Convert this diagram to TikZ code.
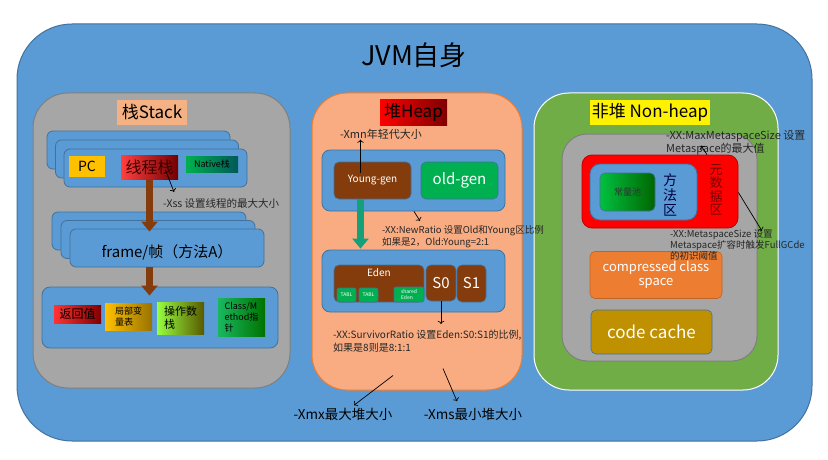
\documentclass[tikz,border=0pt]{standalone}
\usepackage{fontspec}
\setmainfont{Noto Sans CJK SC}
\usepackage{tikz}
\usetikzlibrary{positioning,arrows.meta}
\definecolor{jvmblue}{RGB}{91,155,213}
\definecolor{jvmborder}{RGB}{65,113,156}
\definecolor{stackgray}{RGB}{166,166,166}
\definecolor{stackborder}{RGB}{127,127,127}
\definecolor{stacktitle}{RGB}{244,177,131}
\definecolor{heapsalmon}{RGB}{249,172,130}
\definecolor{heapborder}{RGB}{237,125,49}
\definecolor{nonheapgreen}{RGB}{112,173,71}
\definecolor{pcyellow}{RGB}{255,192,0}
\definecolor{youngbrown}{RGB}{132,60,12}
\definecolor{oldgreen}{RGB}{0,176,80}
\definecolor{newteal}{RGB}{20,160,120}
\definecolor{metared}{RGB}{255,0,0}
\definecolor{compressed}{RGB}{237,125,49}
\definecolor{codecache}{RGB}{191,144,0}
\definecolor{notegray}{RGB}{38,38,38}
\newcommand*{\fsz}[2]{\fontsize{#1}{#2}\selectfont}
\tikzset{%
  panel/.style={draw, rounded corners=35pt, line width=1pt},% big columns
  heading/.style={rectangle, minimum height=25pt, inner sep=2pt, font=\fsz{17}{19}},% column titles
  area/.style={draw=jvmborder, fill=jvmblue, rounded corners=6pt, line width=0.8pt},% blue frames
  block/.style={rectangle, inner sep=1pt, align=center},% coloured cells
  gen/.style={block, rounded corners=5pt, draw=jvmborder, line width=0.6pt, text=white},% heap generations
  note/.style={anchor=north west, align=left, inner sep=0pt, text=notegray},% side notes
  fat/.style={line width=7pt, -{Triangle[width=16pt,length=10pt]}},% thick flow arrows
  pointer/.style={->, line width=0.7pt, black}% thin note arrows
}

\begin{document}
\begin{tikzpicture}[x=1pt, y=-1pt]
\useasboundingbox (0,0) rectangle (828,460);
\node[panel, draw=jvmborder, fill=jvmblue, rounded corners=55pt, minimum width=795pt, minimum height=417pt] (jvm) at (414.5,232.5) {};
\node[font=\fsz{27}{30}] (jvmtitle) at (414,55) {JVM自身};

% stack
\node[panel, draw=stackborder, fill=stackgray, minimum width=257pt, minimum height=295pt] (stack) at (161.5,240.5) {};
\node[heading, fill=stacktitle, minimum width=70pt] (stacktitle) at (152,112.5) {栈Stack};
\foreach \i in {2,1,0}
  \node[area, minimum width=183pt, minimum height=38pt] (thread\i) at (155.5-8.5*\i, 168-9*\i) {};
\node[block, fill=pcyellow, minimum width=36pt, minimum height=21pt, font=\fsz{14}{16}] (pc) at (87,166.5) {PC};
\node[block, left color=red!75, right color=red!45!black, minimum width=57pt, minimum height=24pt, font=\fsz{16}{18}, text=red!25!black] (xc) at (149.5,167) {线程栈};
\node[block, left color=oldgreen, right color=teal!70!black, minimum width=52pt, minimum height=16pt, font=\fsz{9}{10}] (native) at (212,164) {Native栈};

\foreach \i in {2,1,0}
  \node[area, minimum width=194pt, minimum height=38pt] (frame\i) at (167-9*\i, 248-8.5*\i) {};
\node[font=\fsz{15}{17}] (frametext) at (167,252) {frame/帧（方法A）};
\draw[fat, youngbrown] (xc.south) -- ([yshift=-3pt]xc.south |- frame0.north);

\node[area, rounded corners=8pt, minimum width=236pt, minimum height=61pt] (frameparts) at (160,317.5) {};
\draw[fat, youngbrown] (xc.south |- frame0.south) -- ([yshift=-9pt]xc.south |- frameparts.north);
\node[block, left color=red!80, right color=red!50!black, minimum width=47pt, minimum height=18pt, font=\fsz{12}{14}] (ret) at (77.5,314) {返回值};
\node[block, left color=pcyellow, right color=pcyellow!60!black, minimum width=47pt, minimum height=27pt, font=\fsz{9}{11}, align=left] (locals) at (128.5,316.5) {局部变\\量表};
\node[block, left color=green!55!yellow!75, right color=olive!70!black, minimum width=47pt, minimum height=32pt, font=\fsz{11}{13}, align=left] (operand) at (180.5,318) {操作数\\栈};
\node[block, left color=oldgreen!90, right color=green!45!black, minimum width=47pt, minimum height=38pt, font=\fsz{9}{11}, align=left] (methodref) at (241.5,317) {Class/M\\ethod指\\针};

% heap
\node[panel, draw=heapborder, fill=heapsalmon, minimum width=210pt, minimum height=297pt] (heap) at (417,241.5) {};
\node[heading, left color=red, right color=red!50!black, minimum width=67pt] (heaptitle) at (413.5,112.5) {堆Heap};
\node[area, rounded corners=8pt, minimum width=183pt, minimum height=61pt] (gens) at (413.5,180.5) {};
\node[gen, fill=youngbrown, minimum width=77pt, minimum height=37pt, font=\fsz{10}{12}] (young) at (372.5,180.5) {Young-gen};
\node[gen, fill=oldgreen, minimum width=77pt, minimum height=37pt, font=\fsz{15}{17}] (old) at (459.5,180.5) {old-gen};

\node[area, rounded corners=8pt, minimum width=183pt, minimum height=62pt] (spaces) at (413.5,281) {};
\draw[fat, newteal] ([xshift=-12pt]young.south) -- ([xshift=-12pt,yshift=1pt]young.south |- spaces.north);
\node[gen, fill=youngbrown, minimum width=90pt, minimum height=37pt] (eden) at (379,283.5) {};
\node[below=0pt of eden.north, text=white, font=\fsz{10}{12}] (edentext) {Eden};
\node[gen, fill=oldgreen, minimum width=19pt, minimum height=14pt, rounded corners=2pt, font=\fsz{5}{6}] (tabla) at (346.5,295) {TABL};
\node[gen, fill=oldgreen, minimum width=19pt, minimum height=14pt, rounded corners=2pt, font=\fsz{5}{6}] (tablb) at (368.5,295) {TABL};
\node[gen, fill=oldgreen, minimum width=30pt, minimum height=15pt, rounded corners=2pt, font=\fsz{5}{6}, align=left] (shared) at (409,294.5) {shared\\Eden};
\node[gen, fill=youngbrown, minimum width=30pt, minimum height=36pt, font=\fsz{15}{17}] (szero) at (441,283) {S0};
\node[gen, fill=youngbrown, minimum width=29pt, minimum height=37pt, font=\fsz{15}{17}] (sone) at (471.5,283.5) {S1};

\node[font=\fsz{13.5}{15}] (xmx) at (343,414) {-Xmx最大堆大小};
\node[font=\fsz{13.5}{15}] (xms) at (473,414) {-Xms最小堆大小};
\draw[pointer] ([xshift=-24pt,yshift=15pt]heap.south) -- ([xshift=11pt,yshift=-1pt]xmx.north);
\draw[pointer] ([xshift=26pt,yshift=22pt]heap.south) -- ([xshift=-16pt,yshift=3pt]xms.north);

% non-heap
\node[panel, draw=white, fill=nonheapgreen, minimum width=244pt, minimum height=297pt] (nonheap) at (656,241.5) {};
\node[heading, fill=yellow, minimum width=120pt] (nonheaptitle) at (650,112.5) {非堆 Non-heap};
\node[panel, draw=stackborder, fill=stackgray, rounded corners=25pt, minimum width=195pt, minimum height=227pt] (metaspace) at (659.5,247.5) {};
\node[area, draw=red!75!black, fill=metared, rounded corners=10pt, minimum width=156pt, minimum height=73pt] (meta) at (660,191.5) {};
\node[area, rounded corners=10pt, minimum width=107pt, minimum height=56pt] (methodarea) at (643.5,192) {};
\node[gen, left color=oldgreen!80!green, right color=green!40!black, minimum width=55pt, minimum height=38pt, text=black!80, font=\fsz{9}{11}] (pool) at (627.5,192) {常量池};
\node[font=\fsz{14}{15}, align=center, text=black!75!blue] (methodtext) at (670,195) {方\\法\\区};
\node[font=\fsz{13}{13.5}, align=center, text=red!45!black] (metatext) at (716,190) {元\\数\\据\\区};
\node[gen, draw=heapborder!80!black, fill=compressed, minimum width=132pt, minimum height=47pt, font=\fsz{13}{14.5}] (ccs) at (656,275) {compressed class\\space};
\node[gen, fill=codecache, minimum width=121pt, minimum height=44pt, font=\fsz{17}{19}] (code) at (651.5,332) {code cache};

% notes on top
\node[note, font=\fsz{10.5}{12}] (xss) at (163,198) {-Xss 设置线程的最大大小};
\draw[pointer] ([xshift=16pt,yshift=-3pt]xc.center) -- ([xshift=11pt,yshift=6pt]xss.north west);
\node[note, font=\fsz{11}{13}] (xmn) at (340,129) {-Xmn年轻代大小};
\draw[pointer] ([xshift=-12pt,yshift=8pt]young.center) -- ([xshift=-12pt]young.center |- xmn.south);
\node[note, font=\fsz{9.5}{12.5}] (newratio) at (382,225) {-XX:NewRatio 设置Old和Young区比例\\如果是2，Old:Young=2:1};
\draw[pointer] ([xshift=0.5pt]gens.south) -- ([xshift=6.5pt,yshift=4pt]gens.south |- newratio.north);
\node[note, font=\fsz{10}{13}] (survivor) at (333,330) {-XX:SurvivorRatio 设置Eden:S0:S1的比例,\\如果是8则是8:1:1};
\draw[pointer] (szero.south) -- ([yshift=6pt]szero.south |- survivor.north);
\node[note, font=\fsz{11}{13}] (maxmeta) at (666,130) {-XX:MaxMetaspaceSize 设置\\Metaspace的最大值};
\draw[pointer] ([xshift=47pt]meta.north) -- ([xshift=41pt,yshift=9pt]meta.north);
\node[note, font=\fsz{9.5}{10}] (metasize) at (670,229) {-XX:MetaspaceSize 设置\\Metaspace扩容时触发FullGCde\\的初识阈值};
\draw[pointer] ([yshift=-1pt]meta.east) -- ([xshift=92pt,yshift=-2pt]metasize.north west);
\end{tikzpicture}
\end{document}
